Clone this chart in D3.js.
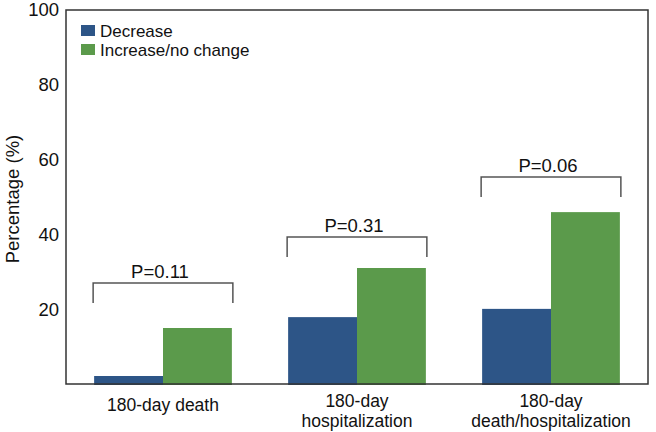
<!DOCTYPE html>
<html><head><meta charset="utf-8">
<script src="https://cdn.jsdelivr.net/npm/d3@7"></script>
<style>body{margin:0;background:#fff}svg text{font-family:"Liberation Sans",Arial,Helvetica,sans-serif;fill:#111}</style>
</head><body><svg id="c" width="656" height="432"></svg>
<script>
const categories = [["180-day death"], ["180-day", "hospitalization"], ["180-day", "death/hospitalization"]];
const seriesNames = ["Decrease", "Increase/no change"];
const decrease = [2.4, 18.1, 20.3];
const increase = [15.2, 31.2, 46.1];
const pLabels = ["P=0.11", "P=0.31", "P=0.06"];
const bracketLevels = [27.2, 39.5, 55.5];
const yTicks = [20, 40, 60, 80, 100];
const colors = ["#2d5587", "#5b9a4b"];

const FS = 18.5;
const svg = d3.select("#c");
const m = {l: 66, r: 8, t: 10, b: 48};
const W = 656, H = 432;
const x0 = d3.scaleBand().domain(d3.range(categories.length)).range([m.l, W - m.r]).paddingInner(0.29).paddingOuter(0.145);
const x1 = d3.scaleBand().domain([0, 1]).range([0, x0.bandwidth()]);
const y = d3.scaleLinear().domain([0, 100]).range([H - m.b + 1, m.t]);

// bars
const series = [decrease, increase];
series.forEach((vals, si) => {
  svg.append("g").selectAll("rect").data(vals).join("rect")
    .attr("x", (d, i) => x0(i) + x1(si))
    .attr("width", x1.bandwidth())
    .attr("y", d => y(d))
    .attr("height", d => y(0) - y(d))
    .attr("fill", colors[si]);
});

// frame
svg.append("rect").attr("x", m.l).attr("y", m.t).attr("width", W - m.r - m.l).attr("height", (H - m.b) - m.t)
  .attr("fill", "none").attr("stroke", "#333").attr("stroke-width", 1.5);

// y axis
const yAxis = svg.append("g").attr("transform", `translate(${m.l},0)`)
  .call(d3.axisLeft(y).tickValues(yTicks).tickSize(0).tickPadding(7));
yAxis.select(".domain").remove();
yAxis.selectAll("text").attr("font-size", FS).style("font-family", '"Liberation Sans",Arial,sans-serif').attr("fill", "#111");

svg.append("text").attr("transform", `translate(19,${(m.t + H - m.b) / 2 + 2}) rotate(-90)`)
  .attr("text-anchor", "middle").attr("font-size", FS).text("Percentage (%)");

// x labels
categories.forEach((lines, i) => {
  const cx = x0(i) + x0.bandwidth() / 2;
  const t = svg.append("text").attr("text-anchor", "middle").attr("font-size", 17.5)
    .attr("x", cx).attr("y", lines.length > 1 ? 407 : 411);
  lines.forEach((ln, j) => t.append("tspan").attr("x", cx).attr("dy", j ? 20 : 0).text(ln));
});

// brackets
bracketLevels.forEach((lv, i) => {
  const xa = x0(i) - 1, xb = x0(i) + x0.bandwidth() + 1, yt = y(lv);
  svg.append("path").attr("d", `M${xa},${yt + 20}V${yt}H${xb}V${yt + 20}`)
    .attr("fill", "none").attr("stroke", "#555").attr("stroke-width", 1.5);
  svg.append("text").attr("text-anchor", "middle").attr("font-size", FS)
    .attr("x", x0(i) + x0.bandwidth() / 2 - 3).attr("y", yt - 5).text(pLabels[i]);
});

// legend
const lg = svg.append("g").attr("transform", "translate(81,24)");
seriesNames.forEach((n, i) => {
  lg.append("rect").attr("x", 0).attr("y", 1 + i * 19).attr("width", 14).attr("height", 11).attr("fill", colors[i]);
  lg.append("text").attr("x", 19).attr("y", 12.5 + i * 19).attr("font-size", 17).text(n);
});
</script></body></html>
